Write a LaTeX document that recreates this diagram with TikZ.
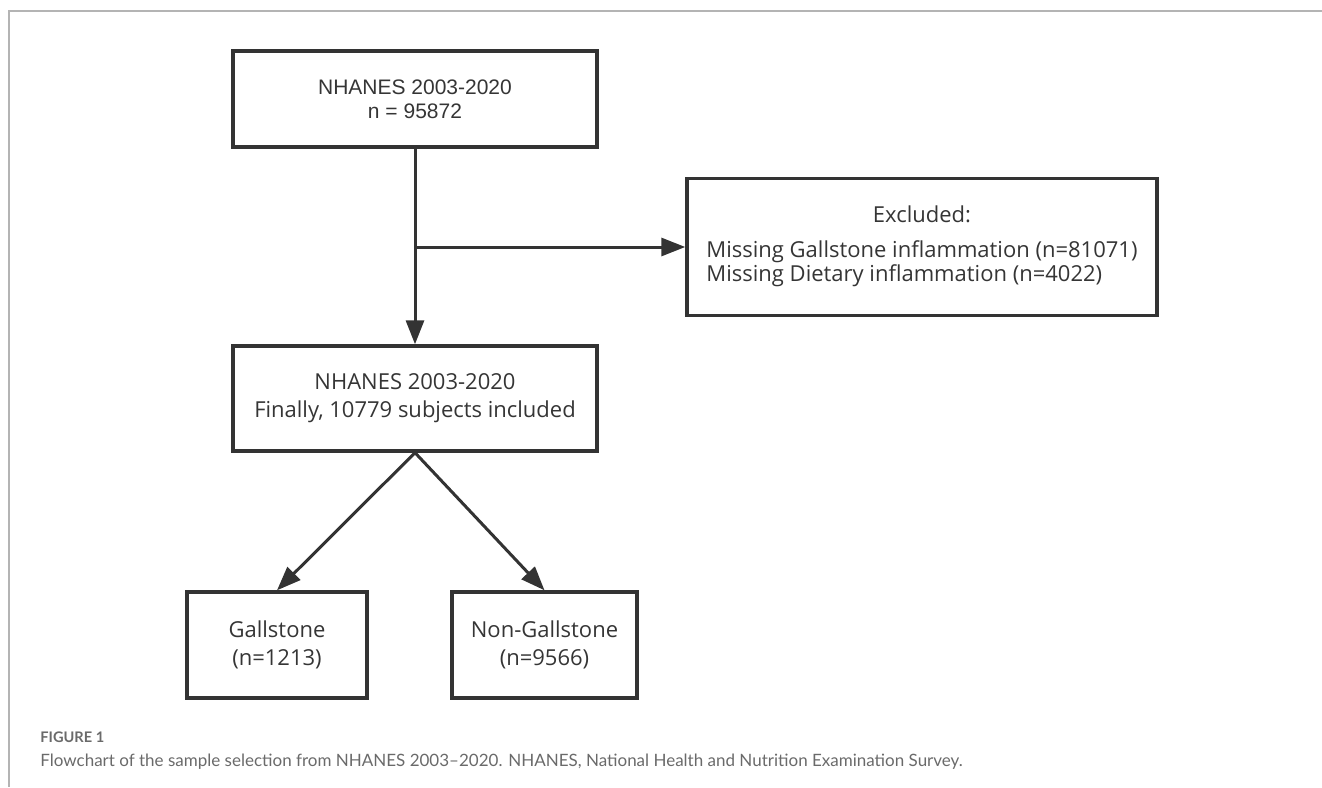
\documentclass[tikz,border=0pt]{standalone}
\usepackage{fontspec}
\setmainfont{Open Sans}
\newfontfamily\arialfont{Liberation Sans}
\newfontfamily\capfont{Lato}
\usetikzlibrary{arrows.meta}
\definecolor{linegray}{HTML}{333333}
\definecolor{textgray}{HTML}{353535}
\definecolor{framegray}{HTML}{B4B4B4}
\definecolor{capgray}{HTML}{6A6A6A}
\tikzset{
	flowbox/.style={draw=linegray,line width=1.7pt,align=center,text=textgray,inner sep=0pt,font=\fontsize{11}{14}\selectfont},
	flowarrow/.style={draw=linegray,line width=1.5pt,-{Triangle[length=12pt,width=9pt]}},
}

\begin{document}
\begin{tikzpicture}[x=0.5pt,y=-0.5pt]
	\useasboundingbox (0,0) rectangle (1322,787);
	% frame of the figure
	\draw[framegray,line width=0.8pt] (1322,11) -- (9,11) -- (9,787);
	% boxes
	\node[flowbox,minimum width=182pt,minimum height=48pt,font=\arialfont\fontsize{10.5}{12}\selectfont] (all) at (415,99) {NHANES 2003-2020\\n = 95872};
	\node[flowbox,minimum width=235pt,minimum height=68.5pt,font=\fontsize{11}{11.5}\selectfont] (excl) at (922,247) {Excluded:\\[6pt]\begin{tabular}[t]{@{}l@{}}Missing Gallstone inflammation (n=81071)\\Missing Dietary inflammation (n=4022)\end{tabular}};
	\node[flowbox,minimum width=182pt,minimum height=52.5pt] (final) at (415,398.5) {NHANES 2003-2020\\Finally, 10779 subjects included};
	\node[flowbox,minimum width=90pt,minimum height=53pt] (gs) at (277,645) {Gallstone\\(n=1213)};
	\node[flowbox,minimum width=92.5pt,minimum height=53pt] (nongs) at (544.5,645) {Non-Gallstone\\(n=9566)};
	% connectors
	\coordinate (split) at (all.south |- excl.west);
	\draw[flowarrow] (all.south) -- (final.north);
	\draw[flowarrow] (split) -- (excl.west);
	\draw[flowarrow] (final.south) -- (gs.north);
	\draw[flowarrow] (final.south) -- (nongs.north);
	% caption
	\node[anchor=base west,inner sep=0pt,text=capgray,font=\capfont\bfseries\fontsize{7.3}{8}\selectfont] (figlabel) at (40,742) {FIGURE 1};
	\node[anchor=base west,inner sep=0pt,text=capgray,font=\capfont\fontsize{8.5}{10}\selectfont] (figcaption) at (40,766) {Flowchart of the sample selection from NHANES 2003–2020. NHANES, National Health and Nutrition Examination Survey.};
\end{tikzpicture}
\end{document}
